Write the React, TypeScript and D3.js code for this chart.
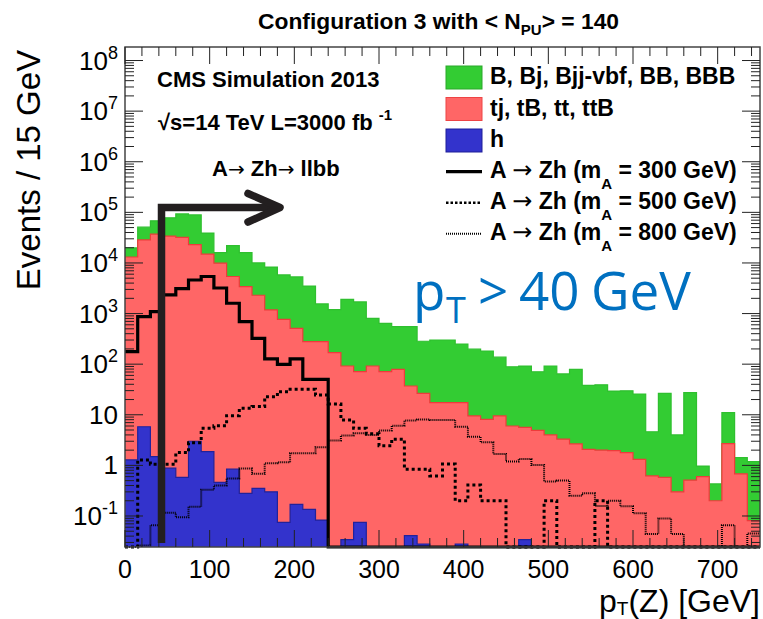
import React from "react";
import * as d3 from "d3";

// p_T(Z) binning: 50 bins of 15 GeV
const binWidth = 15;

// backgrounds, events per bin (stacked: h, then tj/tB/tt/ttB, then B..BBB)
const bkgH = [1.28, 5.8, 1.49, 0.88, 0.58, 3.0, 1.87, 0.46, 0.84, 0.28,
  0.35, 0.3, 0.075, 0.17, 0.135, 0.083, 0, 0.034, 0.075, 0,
  0, 0, 0.041, 0.028, 0, 0, 0.028, 0, 0, 0,
  0, 0.034, 0, 0, 0, 0, 0, 0, 0, 0,
  0, 0, 0, 0, 0, 0, 0, 0, 0, 0];
const bkgTop = [13100, 28500, 37000, 34000, 32000, 23000, 15000, 9900, 5400, 3400,
  2300, 1180, 770, 510, 279, 279, 169, 92, 71, 92,
  71, 79, 37, 26.5, 17.4, 17.4, 17.4, 9.5, 8.1, 9.5,
  6.0, 5.6, 4.9, 4.0, 3.3, 2.65, 2.08, 2.0, 1.95, 1.79,
  1.32, 0.62, 0.58, 0.3, 0.51, 0.6, 0.2, 2.7, 0.68, 0.081];
const bkgB = [6700, 22500, 31000, 44000, 61000, 66000, 24000, 6100, 16600, 12600,
  7700, 7100, 5030, 4790, 3220, 1270, 1030, 1810, 1630, 714,
  569, 471, 513, 257, 283, 283, 233, 188, 174, 128,
  83, 86, 66, 88, 61, 76, 36, 37, 27.5, 28,
  24.4, 4.0, 25.9, 3.7, 26.9, 0.37, 0.23, 8.3, 0.74, 1.11];

// signals A -> Zh
const sig300 = [177, 869, 1090, 2330, 3100, 4600, 5400, 3200, 1600, 690,
  324, 127, 99, 127, 50, 50, 0, 0, 0, 0,
  0, 0, 0, 0, 0, 0, 0, 0, 0, 0,
  0, 0, 0, 0, 0, 0, 0, 0, 0, 0,
  0, 0, 0, 0, 0, 0, 0, 0, 0, 0];
const sig500 = [0, 1.28, 1.05, 1.05, 1.79, 2.8, 5.4, 6.1, 9.6, 13.4,
  14.5, 22.8, 28.6, 31.8, 31.8, 24.6, 16.3, 7.9, 5.4, 4.2,
  2.45, 3.3, 0.84, 0.84, 0.62, 1.07, 0.2, 0.41, 0.2, 0.2,
  0, 0, 0, 0.2, 0, 0, 0, 0.2, 0, 0,
  0, 0, 0, 0, 0, 0, 0, 0, 0, 0];
const sig800 = [0, 0.026, 0.066, 0.116, 0.094, 0.153, 0.33, 0.4, 0.55, 0.87,
  0.68, 1.1, 1.15, 1.73, 1.73, 2.27, 3.1, 3.9, 4.3, 4.0,
  4.9, 6.1, 7.7, 8.1, 7.9, 7.9, 5.8, 3.7, 2.86, 1.68,
  1.19, 1.34, 1.02, 0.48, 0.5, 0.25, 0.28, 0.157, 0.2, 0.155,
  0.113, 0.044, 0.089, 0.044, 0, 0, 0, 0.066, 0, 0.045];

const xTicks = [0, 100, 200, 300, 400, 500, 600, 700];
const yExps = [-1, 0, 1, 2, 3, 4, 5, 6, 7, 8];

const legendFill = [
  { label: "B, Bj, Bjj-vbf, BB, BBB", color: "#33cc33", stroke: "#2aa82a" },
  { label: "tj, tB, tt, ttB", color: "#ff6666", stroke: "#ee4444" },
  { label: "h", color: "#3333cc", stroke: "#1f1f99" },
];
const legendLines = [
  { mass: "300", width: 3.2, dash: null },
  { mass: "500", width: 2.6, dash: "2.5,2" },
  { mass: "800", width: 2, dash: "1,1" },
];

const FONT = "'Liberation Sans', Arial, sans-serif";
const ARROW_FONT = "'DejaVu Sans', sans-serif";

export default function App() {
  const W = 763, H = 619;
  const left = 125, right = 760, top = 47, bottom = 547;
  const yMin = 0.0244, yMax = 1.85e8;

  const x = d3.scaleLinear().domain([0, 750]).range([left, right]);
  const y = d3.scaleLog().domain([yMin, yMax]).range([bottom, top]);
  const yc = (v: number) => (v > yMin ? Math.max(top, y(v)) : bottom);

  const pts = (vals: number[]) => {
    const p: [number, number][] = vals.map((v, i) => [i * binWidth, v]);
    p.push([vals.length * binWidth, vals[vals.length - 1]]);
    return p;
  };

  const line = d3.line<[number, number]>()
    .curve(d3.curveStepAfter)
    .x(d => x(d[0]))
    .y(d => yc(d[1]));
  const area = d3.area<[number, number]>()
    .curve(d3.curveStepAfter)
    .x(d => x(d[0]))
    .y0(bottom)
    .y1(d => yc(d[1]));

  // stack the three backgrounds
  const rows = bkgH.map((h, i) => ({ h, t: bkgTop[i], B: bkgB[i] }));
  const stacked = d3.stack<any>().keys(["h", "t", "B"])(rows);
  const layers = [
    { vals: stacked[2].map(d => d[1]), fill: "#33cc33", stroke: "#2fbf2f" },
    { vals: stacked[1].map(d => d[1]), fill: "#ff6666", stroke: "#ee3b3b" },
    { vals: stacked[0].map(d => d[1]), fill: "#3333cc", stroke: "#22229a" },
  ];

  // log ticks
  const yMinor: number[] = [];
  for (let e = -2; e <= 8; e++) {
    for (let m = 1; m <= 9; m++) {
      const v = m * Math.pow(10, e);
      if (v >= yMin && v <= yMax) yMinor.push(v);
    }
  }
  const xMinor = d3.range(0, 751, 20);

  const tickColor = "#222";
  const arrow = (size: number) => (
    <tspan fontFamily={ARROW_FONT} fontWeight="normal" fontSize={size}>→</tspan>
  );

  return (
    <svg width={W} height={H} style={{ position: "absolute", left: 0, top: 0, background: "#fff" }}
      fontFamily={FONT}>
      {/* title */}
      <text x={258} y={29} fontSize={22.8} fontWeight="bold">
        Configuration 3 with {"<  N"}
        <tspan dy={6} fontSize={15}>PU</tspan>
        <tspan dy={-6}>{"> = 140"}</tspan>
      </text>

      {/* stacked backgrounds */}
      {layers.map((l, i) => (
        <g key={i}>
          <path d={area(pts(l.vals)) || ""} fill={l.fill} />
          <path d={line(pts(l.vals)) || ""} fill="none" stroke={l.stroke} strokeWidth={1.2} />
        </g>
      ))}

      {/* signals */}
      <path d={line(pts(sig800)) || ""} fill="none" stroke="#000" strokeWidth={2} strokeDasharray="1,1" />
      <path d={line(pts(sig500)) || ""} fill="none" stroke="#000" strokeWidth={3} strokeDasharray="3,3" />
      <path d={line(pts(sig300)) || ""} fill="none" stroke="#000" strokeWidth={3.2} />

      {/* frame */}
      <rect x={left} y={top} width={right - left} height={bottom - top} fill="none" stroke="#444" strokeWidth={1.5} />

      {/* y ticks */}
      {yMinor.map((v, i) => {
        const major = Math.abs(Math.log10(v) - Math.round(Math.log10(v))) < 1e-9;
        const len = major ? 18 : 9;
        const yy = y(v);
        return (
          <g key={"yt" + i} stroke={tickColor} strokeWidth={1}>
            <line x1={left} x2={left + len} y1={yy} y2={yy} />
            <line x1={right} x2={right - len} y1={yy} y2={yy} />
          </g>
        );
      })}
      {/* x ticks */}
      {xMinor.map(v => {
        const len = v % 100 === 0 ? 17 : 9;
        return (
          <g key={"xt" + v} stroke={tickColor} strokeWidth={1}>
            <line x1={x(v)} x2={x(v)} y1={bottom} y2={bottom - len} />
            <line x1={x(v)} x2={x(v)} y1={top} y2={top + len} />
          </g>
        );
      })}

      {/* y tick labels */}
      {yExps.map(e => (
        <text key={"yl" + e} x={118} y={y(Math.pow(10, e)) + 9} fontSize={26} textAnchor="end">
          {e === 0 ? "1" : e === 1 ? "10" : (
            <>
              10<tspan dy={-11} fontSize={18}>{String(e)}</tspan>
            </>
          )}
        </text>
      ))}
      {/* x tick labels */}
      {xTicks.map(v => (
        <text key={"xl" + v} x={x(v)} y={577.5} fontSize={25} textAnchor="middle">{v}</text>
      ))}

      {/* axis titles */}
      <text transform={`translate(40,${170}) rotate(-90)`} fontSize={33} textAnchor="middle">Events / 15 GeV</text>
      <text x={760} y={612} fontSize={32} textAnchor="end">
        p<tspan dy={3} fontSize={19}>T</tspan><tspan dy={-3}>(Z) [GeV]</tspan>
      </text>

      {/* CMS labels */}
      <text x={157} y={87} fontSize={22} fontWeight="bold">CMS Simulation 2013</text>
      <text x={158} y={130} fontSize={22} fontWeight="bold">
        √s=14 TeV L=3000 fb <tspan dy={-10} fontSize={15}>-1</tspan>
      </text>
      <text x={212} y={176} fontSize={22} fontWeight="bold">
        A{arrow(20)} Zh{arrow(20)} llbb
      </text>

      {/* legend */}
      {legendFill.map((d, i) => (
        <g key={"lf" + i}>
          <rect x={446} y={66 + i * 31.5} width={36} height={23} fill={d.color} stroke={d.stroke} strokeWidth={1} />
          <text x={490} y={84 + i * 31.5} fontSize={23} fontWeight="bold">{d.label}</text>
        </g>
      ))}
      {legendLines.map((d, i) => (
        <g key={"ll" + i}>
          <line x1={446} x2={482} y1={171.7 + i * 31} y2={171.7 + i * 31} stroke="#000"
            strokeWidth={d.width} strokeDasharray={d.dash || undefined} />
          <text x={490} y={178 + i * 31} fontSize={23} fontWeight="bold">
            A {arrow(24)} Zh (m<tspan dy={11} fontSize={15}>A</tspan><tspan dy={-11}>{` = ${d.mass} GeV)`}</tspan>
          </text>
        </g>
      ))}

      {/* cut arrow */}
      <path d="M161.5,543 V207.5 H275" fill="none" stroke="#231f20" strokeWidth={7.5} strokeLinejoin="miter" />
      <path d="M248,193.5 L280,207.5 L248,222" fill="none" stroke="#231f20" strokeWidth={7.5}
        strokeLinecap="round" strokeLinejoin="round" />

      {/* cut text */}
      <text y={310} fontSize={53} fill="#0070c0" fontFamily="'Open Sans', sans-serif">
        <tspan x={413}>p</tspan>
        <tspan x={446} dy={13} fontSize={36}>T</tspan>
        <tspan x={478} dy={-13}>{">"}</tspan>
        <tspan x={519}>40</tspan>
        <tspan x={591}>GeV</tspan>
      </text>
    </svg>
  );
}
